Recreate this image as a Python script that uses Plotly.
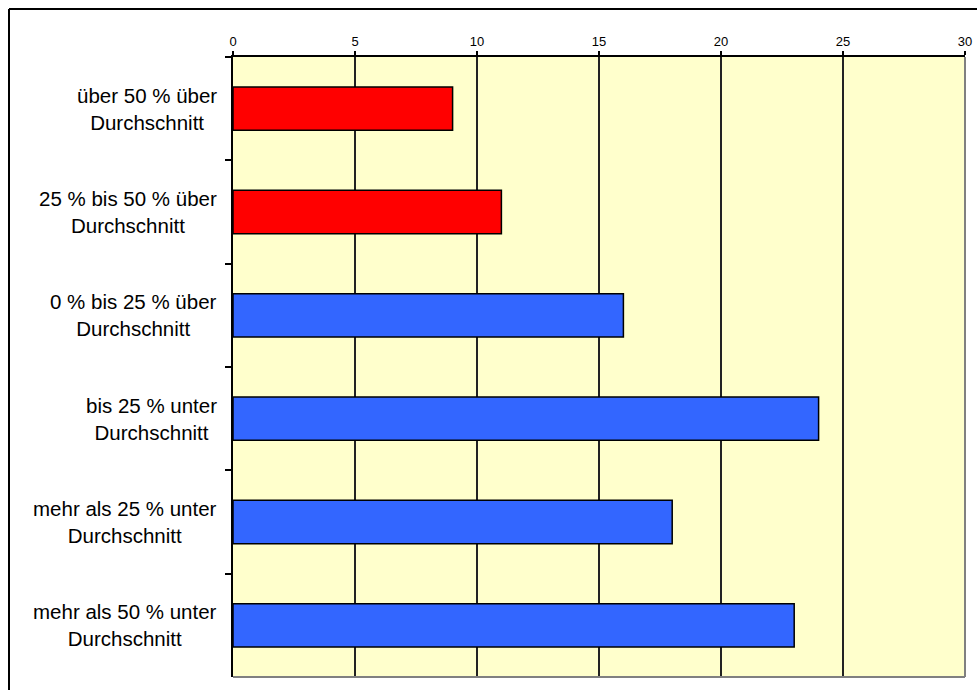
import plotly.graph_objects as go

# Categories (top to bottom) and their values
categories = [
    "über 50 % über<br>Durchschnitt",
    "25 % bis 50 % über<br>Durchschnitt",
    "0 % bis 25 % über<br>Durchschnitt",
    "bis 25 % unter<br>Durchschnitt",
    "mehr als 25 % unter<br>Durchschnitt",
    "mehr als 50 % unter<br>Durchschnitt",
]
values = [9, 11, 16, 24, 18, 23]
bar_colors = ["#FF0000", "#FF0000", "#3366FF", "#3366FF", "#3366FF", "#3366FF"]
x_ticks = [0, 5, 10, 15, 20, 25, 30]

W, H = 977, 690
ML, MR, MT, MB = 233, 12, 57, 13
plot_w = W - ML - MR
plot_h = H - MT - MB

fig = go.Figure()
fig.add_trace(go.Bar(
    y=categories,
    x=values,
    orientation="h",
    marker=dict(color=bar_colors, line=dict(color="#000000", width=1.5)),
    hoverinfo="x+y",
))

px = lambda p: (p - ML) / plot_w
py = lambda p: 1 - (p - MT) / plot_h

# Category labels: right-aligned blocks, lines centred within each block
for cat in categories:
    fig.add_annotation(
        xref="paper", yref="y",
        x=px(219), y=cat,
        text=cat, showarrow=False,
        xanchor="right", yanchor="middle", align="center",
        font=dict(family="Liberation Sans, Arial, sans-serif", size=20.5, color="#000000"),
    )

shapes = []
# Outer chart frame (top and left edges)
shapes.append(dict(type="line", xref="paper", yref="paper",
                   x0=px(9), x1=px(W), y0=py(9), y1=py(9),
                   line=dict(color="#000000", width=2)))
shapes.append(dict(type="line", xref="paper", yref="paper",
                   x0=px(9), x1=px(9), y0=py(9), y1=py(H),
                   line=dict(color="#000000", width=2)))
# Grey right and bottom edges of the plot area
shapes.append(dict(type="line", xref="paper", yref="paper",
                   x0=1, x1=1, y0=0, y1=1, line=dict(color="#808080", width=2)))
shapes.append(dict(type="line", xref="paper", yref="paper",
                   x0=0, x1=1, y0=0, y1=0, line=dict(color="#808080", width=2)))

fig.update_layout(
    width=W, height=H,
    margin=dict(l=ML, r=MR, t=MT, b=MB, autoexpand=False),
    paper_bgcolor="#FFFFFF",
    plot_bgcolor="#FFFFCC",
    bargap=0.58,
    showlegend=False,
    shapes=shapes,
    font=dict(family="Liberation Sans, Arial, sans-serif", color="#000000"),
    xaxis=dict(
        side="top",
        range=[0, 30],
        tickvals=x_ticks,
        ticktext=[str(v) for v in x_ticks],
        ticks="outside", ticklen=4, tickwidth=1.5, tickcolor="#000000",
        tickfont=dict(size=13),
        showgrid=True, gridcolor="#222222", gridwidth=1.5,
        showline=True, linecolor="#000000", linewidth=2,
        zeroline=False,
        automargin=False,
        fixedrange=True,
    ),
    yaxis=dict(
        categoryorder="array",
        categoryarray=categories,
        autorange="reversed",
        showticklabels=False,
        ticks="outside", tickson="boundaries", ticklen=6, tickwidth=1.5, tickcolor="#000000",
        showgrid=False,
        showline=True, linecolor="#000000", linewidth=2,
        zeroline=False,
        automargin=False,
        fixedrange=True,
    ),
)

fig.write_html("out.html")
